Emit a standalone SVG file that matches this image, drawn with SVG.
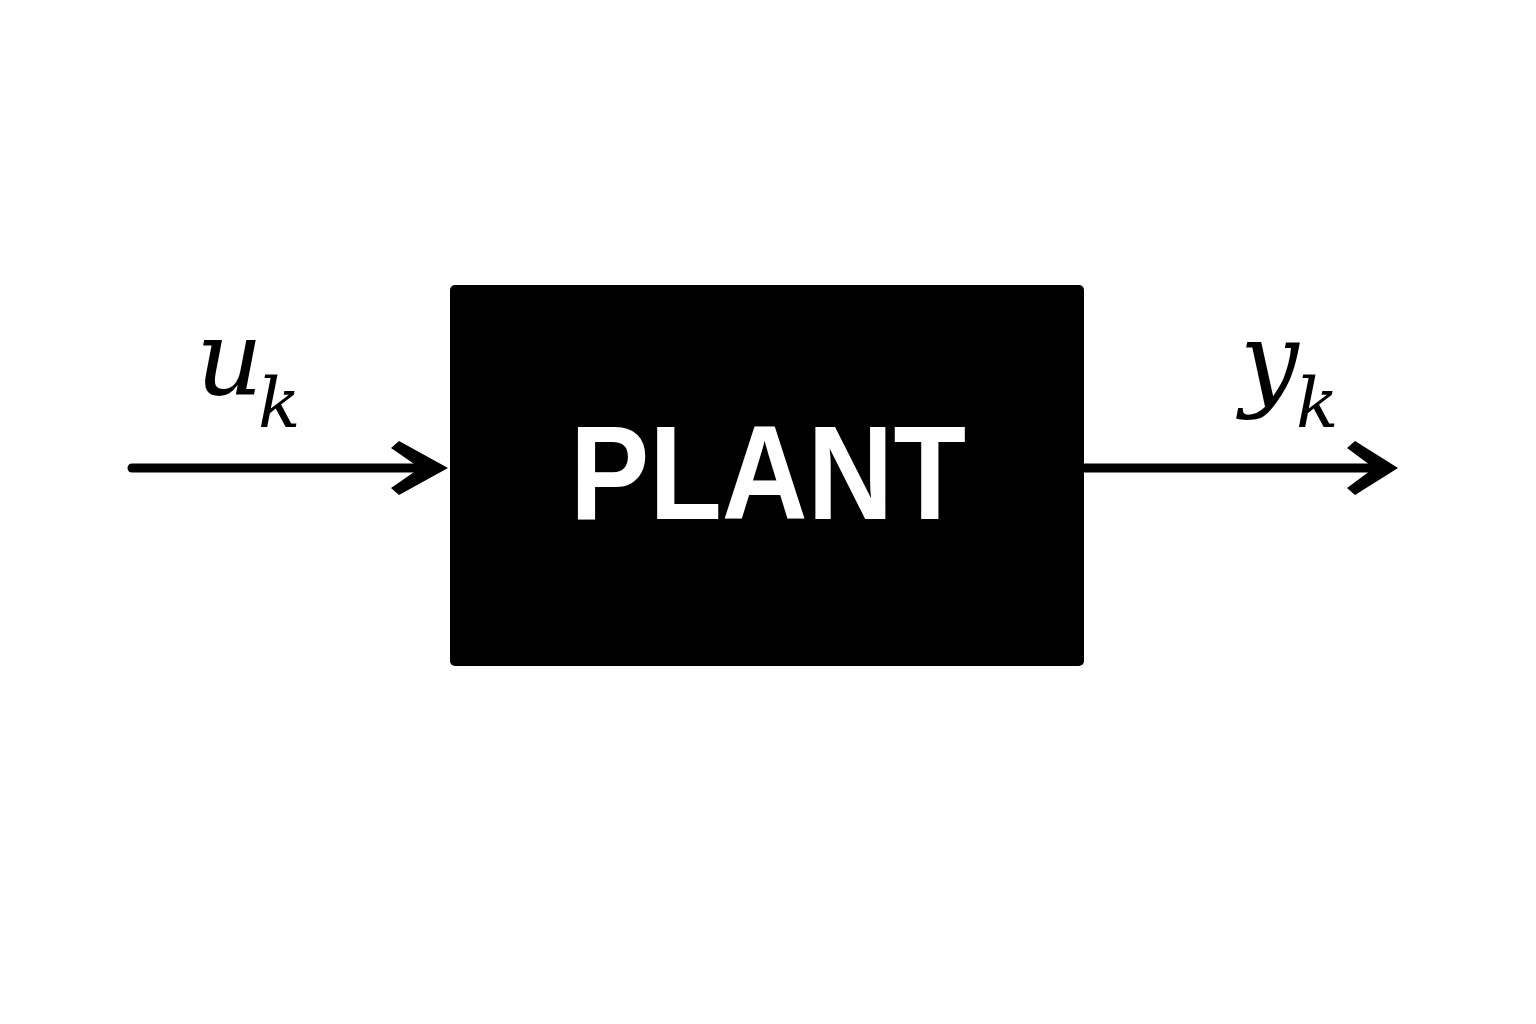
<svg xmlns="http://www.w3.org/2000/svg" width="1536" height="1024" viewBox="0 0 1536 1024">
<style>
.math{font-family:"DejaVu Serif","Liberation Serif",serif;font-style:italic;fill:#000}
.lbl{font-family:"Liberation Sans","Arial",sans-serif;font-weight:bold;fill:#fff}
.wire{stroke:#000;stroke-width:9;stroke-linecap:round;fill:none}
.head{fill:#000}
</style>
<rect width="1536" height="1024" fill="#fff"/>
<g id="connectors">
<line class="wire" x1="132" y1="468" x2="430" y2="468"/>
<polygon class="head" points="448,468 399,441 391,448 420,468 391,488 399,495"/>
<line class="wire" x1="1084" y1="468" x2="1380" y2="468"/>
<polygon class="head" points="1398,468 1355,441 1347,448 1374,468 1347,488 1355,495"/>
</g>
<g id="plant">
<rect x="450" y="285" width="634" height="381" rx="5" fill="#000"/>
<text class="lbl" x="570" y="519" font-size="134" textLength="396" lengthAdjust="spacingAndGlyphs">PLANT</text>
</g>
<g id="label-u">
<text class="math" x="196" y="395" font-size="104">u</text>
<text class="math" x="258" y="427" font-size="70">k</text>
</g>
<g id="label-y">
<text class="math" x="1240" y="397" font-size="104">y</text>
<text class="math" x="1296" y="427" font-size="70">k</text>
</g>
</svg>
